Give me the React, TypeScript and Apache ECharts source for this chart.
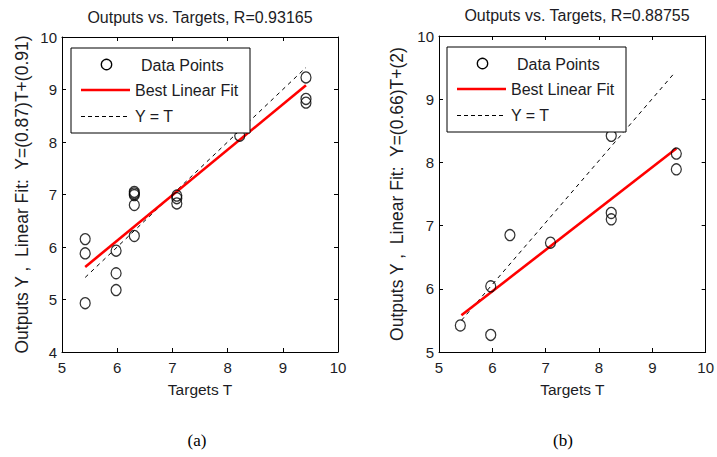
import React, { useEffect, useRef } from "react";
import * as echarts from "echarts";

// Panel (a) data
const targetsA = [5.42, 5.42, 5.42, 5.98, 5.98, 5.98, 6.31, 6.31, 6.31, 6.31, 6.31, 7.08, 7.08, 7.08, 8.22, 9.42, 9.42, 9.42];
const outputsA = [6.15, 5.88, 4.93, 5.93, 5.5, 5.18, 7.05, 7.02, 6.99, 6.8, 6.21, 6.98, 6.93, 6.83, 8.12, 9.23, 8.82, 8.75];
const fitA = [[5.42, 5.62], [9.42, 9.08]];
const identA = [[5.42, 5.42], [9.42, 9.42]];

// Panel (b) data
const targetsB = [5.4, 5.97, 5.97, 6.33, 7.09, 8.23, 8.23, 8.23, 9.45, 9.45];
const outputsB = [5.42, 6.04, 5.27, 6.85, 6.73, 8.42, 7.2, 7.1, 8.14, 7.89];
const fitB = [[5.42, 5.58], [9.45, 8.22]];
const identB = [[5.42, 5.5], [9.42, 9.42]];

const titlesText = ["Outputs vs. Targets, R=0.93165", "Outputs vs. Targets, R=0.88755"];
const yNames = ["Outputs Y ,  Linear Fit:  Y=(0.87)T+(0.91)", "Outputs Y ,  Linear Fit:  Y=(0.66)T+(2)"];
const xName = "Targets T";
const legendLabels = ["Data Points", "Best Linear Fit", "Y = T"];
const captions = ["(a)", "(b)"];

const FONT = "'Liberation Sans', Arial, sans-serif";
const TXT = "#1c1c24";

export default function App() {
  const ref = useRef<HTMLDivElement>(null);
  useEffect(() => {
    if (!ref.current) return;
    const chart = echarts.init(ref.current, undefined, { renderer: "svg" });
    const grids = [
      { left: 62, top: 37, width: 276, height: 315 },
      { left: 439, top: 36, width: 274, height: 316 },
    ];
    const yRanges = [[4, 10], [5, 10]];
    const axisLine = { show: true, lineStyle: { color: "#000", width: 1 } };
    const tick = { show: true, inside: true, length: 4, lineStyle: { color: "#000" } };
    const xAxes: any[] = [];
    const yAxes: any[] = [];
    [0, 1].forEach((i) => {
      xAxes.push({
        type: "value", gridIndex: i, min: 5, max: 10, interval: 1, position: "bottom",
        axisLine, axisTick: tick, splitLine: { show: false },
        axisLabel: { color: TXT, fontFamily: FONT, fontSize: 15, margin: 8, showMaxLabel: true, showMinLabel: true },
        name: xName, nameLocation: "middle", nameGap: 29,
        nameTextStyle: { color: TXT, fontFamily: FONT, fontSize: 15.5 },
      });
      xAxes.push({
        type: "value", gridIndex: i, min: 5, max: 10, interval: 1, position: "top",
        axisLine, axisTick: tick, axisLabel: { show: false }, splitLine: { show: false },
      });
      yAxes.push({
        type: "value", gridIndex: i, min: yRanges[i][0], max: yRanges[i][1], interval: 1, position: "left",
        axisLine, axisTick: tick, splitLine: { show: false },
        axisLabel: { color: TXT, fontFamily: FONT, fontSize: 15, margin: 5, showMaxLabel: true, showMinLabel: true },
        name: yNames[i], nameLocation: "middle", nameGap: i === 0 ? 31 : 33, nameRotate: 90,
        nameTextStyle: { color: TXT, fontFamily: FONT, fontSize: 17.5 },
      });
      yAxes.push({
        type: "value", gridIndex: i, min: yRanges[i][0], max: yRanges[i][1], interval: 1, position: "right",
        axisLine, axisTick: tick, axisLabel: { show: false }, splitLine: { show: false },
      });
    });

    const pairs = (xs: number[], ys: number[]) => xs.map((x, k) => [x, ys[k]]);
    const scatter = (i: number, data: number[][]) => ({
      type: "scatter", xAxisIndex: i * 2, yAxisIndex: i * 2, data,
      symbol: "circle", symbolSize: [10, 11],
      itemStyle: { color: "rgba(0,0,0,0)", borderColor: "#000", borderWidth: 1.3 },
      z: 3,
    });
    const line = (i: number, data: number[][], red: boolean) => ({
      type: "line", xAxisIndex: i * 2, yAxisIndex: i * 2, data, showSymbol: false, symbol: "none",
      lineStyle: red ? { color: "#ff0000", width: 2.6 } : { color: "#000", width: 1, type: [4, 4] },
      z: red ? 2 : 1,
    });

    const legendAt = (x: number, y: number) => {
      const w = 179, h = 85;
      return [
        { type: "rect", z: 100, shape: { x, y, width: w, height: h }, style: { fill: "#fff", stroke: "#000", lineWidth: 1 } },
        { type: "circle", z: 101, shape: { cx: x + 35.5, cy: y + 16.5, r: 5.2 }, style: { fill: "none", stroke: "#000", lineWidth: 1.3 } },
        { type: "text", z: 101, style: { text: legendLabels[0], x: x + 70, y: y + 17, verticalAlign: "middle", fill: TXT, font: `16px ${FONT}` } },
        { type: "line", z: 101, shape: { x1: x + 10, y1: y + 42, x2: x + 59, y2: y + 42 }, style: { stroke: "#ff0000", lineWidth: 2.6 } },
        { type: "text", z: 101, style: { text: legendLabels[1], x: x + 64, y: y + 42, verticalAlign: "middle", fill: TXT, font: `16px ${FONT}` } },
        { type: "line", z: 101, shape: { x1: x + 10, y1: y + 68.5, x2: x + 59, y2: y + 68.5 }, style: { stroke: "#000", lineWidth: 1, lineDash: [4, 3] } },
        { type: "text", z: 101, style: { text: legendLabels[2], x: x + 64, y: y + 68.5, verticalAlign: "middle", fill: TXT, font: `16px ${FONT}` } },
      ];
    };

    chart.setOption({
      animation: false,
      backgroundColor: "#fff",
      grid: grids,
      xAxis: xAxes,
      yAxis: yAxes,
      series: [
        line(0, identA, false), line(0, fitA, true), scatter(0, pairs(targetsA, outputsA)),
        line(1, identB, false), line(1, fitB, true), scatter(1, pairs(targetsB, outputsB)),
      ],
      graphic: [
        { type: "text", z: 100, style: { text: titlesText[0], x: 200, y: 17, align: "center", verticalAlign: "middle", fill: TXT, font: `16px ${FONT}` } },
        { type: "text", z: 100, style: { text: titlesText[1], x: 577, y: 15, align: "center", verticalAlign: "middle", fill: TXT, font: `16px ${FONT}` } },
        ...legendAt(71, 48),
        ...legendAt(447, 47),
        { type: "text", z: 100, style: { text: captions[0], x: 197, y: 440, align: "center", verticalAlign: "middle", fill: "#000", font: "17px 'Liberation Serif', 'Times New Roman', serif" } },
        { type: "text", z: 100, style: { text: captions[1], x: 563, y: 440, align: "center", verticalAlign: "middle", fill: "#000", font: "17px 'Liberation Serif', 'Times New Roman', serif" } },
      ],
    });
    return () => chart.dispose();
  }, []);
  return <div ref={ref} style={{ position: "absolute", left: 0, top: 0, width: 717, height: 457 }} />;
}
